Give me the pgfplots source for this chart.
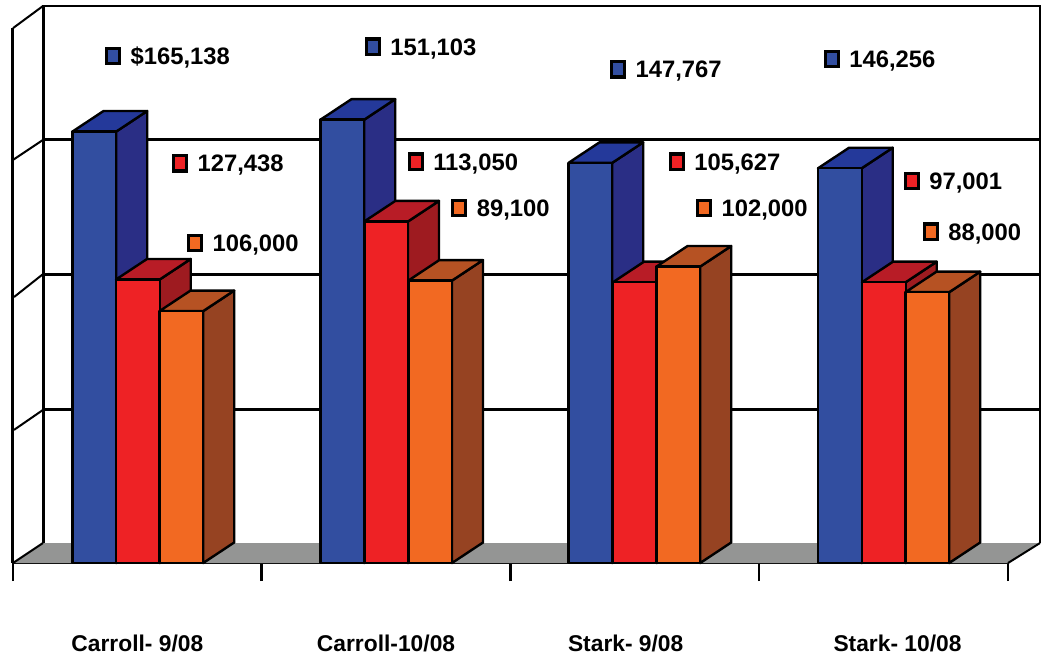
\documentclass[border=0pt]{standalone}
\usepackage{fontspec}
\setmainfont{Liberation Sans}
\usepackage{pgfplots}
\pgfplotsset{compat=1.18}

\definecolor{bluef}{HTML}{324EA0}
\definecolor{bluet}{HTML}{24399A}
\definecolor{blues}{HTML}{2A2E85}
\definecolor{redf}{HTML}{EE2225}
\definecolor{redt}{HTML}{B81C26}
\definecolor{reds}{HTML}{9E1B20}
\definecolor{orangef}{HTML}{F26922}
\definecolor{oranget}{HTML}{B65223}
\definecolor{oranges}{HTML}{964322}
\definecolor{floorc}{HTML}{949594}

% one 3d bar: left x, value (in $1000), colour prefix
\newcommand{\threedbar}[3]{%
  \pgfmathsetmacro\xa{#1}%
  \pgfmathsetmacro\xb{#1+43.7}%
  \pgfmathsetmacro\xc{#1+43.7+31}%
  \pgfmathsetmacro\xd{#1+31}%
  \pgfmathsetmacro\yb{#2+7.6}%
  \edef\temp{%
    \noexpand\addplot[barface,fill=#3s] coordinates {(\xb,0) (\xc,7.6) (\xc,\yb) (\xb,#2)} --cycle;
    \noexpand\addplot[barface,fill=#3t] coordinates {(\xa,#2) (\xb,#2) (\xc,\yb) (\xd,\yb)} --cycle;
    \noexpand\addplot[barface,fill=#3f] coordinates {(\xa,0) (\xb,0) (\xb,#2) (\xa,#2)} --cycle;
  }\temp
}

\begin{document}
\begin{tikzpicture}
\path (0,0) rectangle (1051pt,657pt);
\begin{axis}[
    at={(13pt,94pt)}, anchor=south west,
    scale only axis, width=995pt, height=557pt,
    xmin=13, xmax=1008, ymin=0, ymax=206.3,
    clip=false,
    axis x line*=bottom, axis y line=none,
    x axis line style={line width=2.6pt},
    xtick={13,261.7,510.4,759,1008},
    x tick label as interval,
    xticklabels={Carroll- 9/08,Carroll-10/08,Stark- 9/08\hspace*{18pt},\hspace*{28pt}Stark- 10/08},
    xticklabel style={font=\fontsize{22.8}{24}\selectfont\bfseries, yshift=-50pt},
    tick align=outside, major tick length=18pt,
    tick style={black, line width=2.6pt},
    ytick=\empty,
    barface/.style={draw=black, line width=2.4pt, line join=round},
    wall/.style={black, line width=3pt},
    slant/.style={black, line width=2pt},
    keylabel/.style={only marks, mark=square*, mark size=6.5pt,
      mark options={draw=black, line width=3.2pt, fill=#1, yscale=1.2},
      point meta=explicit symbolic,
      nodes near coords={\pgfplotspointmeta},
      every node near coord/.style={anchor=west, xshift=16pt, yshift=-2pt, inner sep=0pt, text=black,
        font=\fontsize{23.8}{24}\selectfont\bfseries}},
  ]
  % floor
  \addplot[fill=floorc, draw=none] coordinates {(13,0) (43,7.4) (1040,7.4) (1008,0)} --cycle;
  % back wall
  \addplot[wall, line width=2.4pt] coordinates {(43,7.4) (43,206.3) (1040,206.3) (1040,7.4)};
  \addplot[wall] coordinates {(43,156.7) (1040,156.7)};
  \addplot[wall] coordinates {(43,107) (1040,107)};
  \addplot[wall] coordinates {(43,56.7) (1040,56.7)};
  \addplot[wall] coordinates {(43,7.4) (43,206.3)};
  % left side
  \addplot[wall] coordinates {(13,0) (13,198.1)};
  \addplot[slant] coordinates {(13,198.1) (43,206.3)};
  \addplot[slant] coordinates {(13,149.3) (43,156.7)};
  \addplot[slant] coordinates {(14,98.5) (43,107)};
  \addplot[slant] coordinates {(14,49.3) (43,56.7)};
  \addplot[slant] coordinates {(13,0) (43,7.4)};
  \addplot[slant] coordinates {(1008,0) (1040,7.4)};
  % bars
  \threedbar{72.5}{159.8}{blue}
  \threedbar{116}{105}{red}
  \threedbar{159.5}{93.3}{orange}
  \threedbar{320.5}{164.2}{blue}
  \threedbar{364.3}{126.5}{red}
  \threedbar{408.3}{104.6}{orange}
  \threedbar{568.5}{148.2}{blue}
  \threedbar{613}{104}{red}
  \threedbar{656.5}{109.8}{orange}
  \threedbar{818}{146.2}{blue}
  \threedbar{862}{104}{red}
  \threedbar{905.5}{100.3}{orange}
  % labels with their keys
  \addplot[keylabel=bluef] coordinates {
    (113,187.8) [\$165,138]
    (372.7,191.2) [151,103]
    (618,182.9) [147,767]
    (831.7,186.7) [146,256]};
  \addplot[keylabel=redf] coordinates {
    (180,148.1) [127,438]
    (415.7,148.6) [113,050]
    (676.7,148.6) [105,627]
    (911.7,141.5) [97,001]};
  \addplot[keylabel=orangef] coordinates {
    (195,118.5) [106,000]
    (459.3,131.5) [89,100]
    (704,131.5) [102,000]
    (930.7,122.7) [88,000]};
\end{axis}
\end{tikzpicture}
\end{document}
